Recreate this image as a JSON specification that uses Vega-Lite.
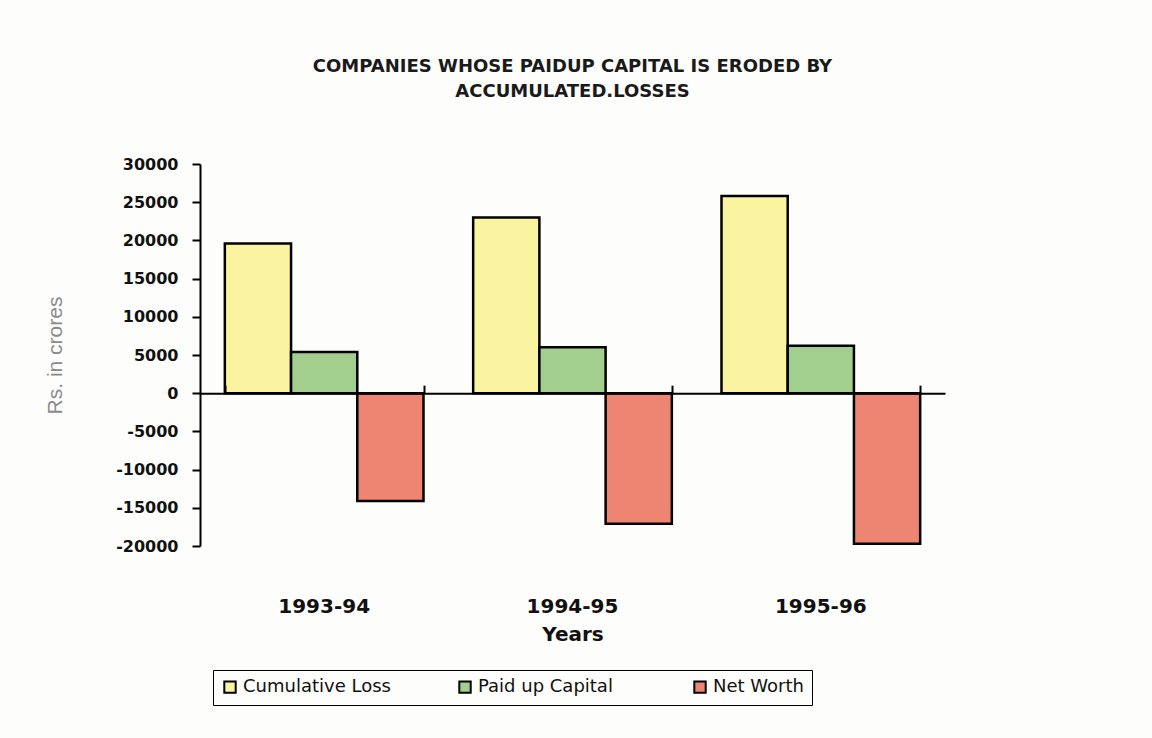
{
  "$schema": "https://vega.github.io/schema/vega-lite/v6.json",
  "width": 745,
  "height": 382,
  "autosize": {"type": "none"},
  "padding": {"left": 200, "top": 164, "right": 207, "bottom": 192},
  "background": "#fdfdfb",
  "title": {
    "text": ["COMPANIES WHOSE PAIDUP CAPITAL IS ERODED BY", "ACCUMULATED.LOSSES"],
    "font": "DejaVu Sans",
    "fontSize": 18,
    "fontWeight": "bold",
    "color": "#1a1a1a",
    "anchor": "middle",
    "lineHeight": 25,
    "offset": 55
  },
  "data": {
    "values": [
      {"Year": "1993-94", "Series": "Cumulative Loss", "Value": 19600},
      {"Year": "1993-94", "Series": "Paid up Capital", "Value": 5400},
      {"Year": "1993-94", "Series": "Net Worth", "Value": -14100},
      {"Year": "1994-95", "Series": "Cumulative Loss", "Value": 23000},
      {"Year": "1994-95", "Series": "Paid up Capital", "Value": 6000},
      {"Year": "1994-95", "Series": "Net Worth", "Value": -17100},
      {"Year": "1995-96", "Series": "Cumulative Loss", "Value": 25800},
      {"Year": "1995-96", "Series": "Paid up Capital", "Value": 6200},
      {"Year": "1995-96", "Series": "Net Worth", "Value": -19700}
    ]
  },
  "layer": [
    {
      "mark": {"type": "bar", "stroke": "black", "strokeWidth": 2.5},
      "encoding": {
        "x": {
          "field": "Year",
          "type": "nominal",
          "scale": {"paddingInner": 0.2, "paddingOuter": 0.1},
          "axis": {
            "orient": "top",
            "offset": -229.2,
            "labels": false,
            "title": null,
            "domainColor": "black",
            "domainWidth": 2,
            "tickColor": "black",
            "tickWidth": 2,
            "tickSize": 8,
            "tickBand": "extent",
            "zindex": 2
          }
        },
        "xOffset": {
          "field": "Series",
          "type": "nominal",
          "sort": ["Cumulative Loss", "Paid up Capital", "Net Worth"],
          "scale": {"paddingInner": 0, "paddingOuter": 0}
        },
        "y": {
          "field": "Value",
          "type": "quantitative",
          "scale": {"domain": [-20000, 30000], "nice": false},
          "axis": {
            "values": [-20000, -15000, -10000, -5000, 0, 5000, 10000, 15000, 20000, 25000, 30000],
            "labelExpr": "'' + datum.value",
            "labelOverlap": false,
            "grid": false,
            "domainColor": "black",
            "domainWidth": 2,
            "tickColor": "black",
            "tickWidth": 2,
            "tickSize": 8,
            "labelFont": "DejaVu Sans",
            "labelFontWeight": "bold",
            "labelFontSize": 16,
            "labelColor": "#111111",
            "labelPadding": 14,
            "title": "Rs. in crores",
            "titleFont": "Liberation Sans",
            "titleFontWeight": "normal",
            "titleFontSize": 21,
            "titleColor": "#8a8a8a",
            "titlePadding": 50
          }
        },
        "color": {
          "field": "Series",
          "type": "nominal",
          "sort": ["Cumulative Loss", "Paid up Capital", "Net Worth"],
          "scale": {"range": ["#faf3a0", "#a2cf8e", "#ee8472"]},
          "legend": {
            "title": null,
            "orient": "none",
            "legendX": 13,
            "legendY": 506,
            "direction": "horizontal",
            "columns": 3,
            "gridAlign": "all",
            "columnPadding": 64,
            "padding": 8,
            "strokeColor": "black",
            "symbolType": "square",
            "symbolSize": 130,
            "symbolStrokeColor": "black",
            "symbolStrokeWidth": 2,
            "symbolOpacity": 1,
            "labelFont": "DejaVu Sans",
            "labelFontSize": 18,
            "labelColor": "#111111",
            "labelOffset": 4
          }
        }
      }
    },
    {
      "mark": {"type": "point", "opacity": 0},
      "encoding": {
        "x": {
          "field": "Year",
          "type": "nominal",
          "axis": {
            "orient": "bottom",
            "domain": false,
            "ticks": false,
            "labelAngle": 0,
            "labelFont": "DejaVu Sans",
            "labelFontWeight": "bold",
            "labelFontSize": 20,
            "labelColor": "#111111",
            "labelPadding": 50,
            "title": "Years",
            "titleFont": "DejaVu Sans",
            "titleFontWeight": "bold",
            "titleFontSize": 20,
            "titleColor": "#111111",
            "titlePadding": 8
          }
        }
      }
    }
  ],
  "resolve": {"axis": {"x": "independent"}},
  "config": {"view": {"stroke": null}}
}
